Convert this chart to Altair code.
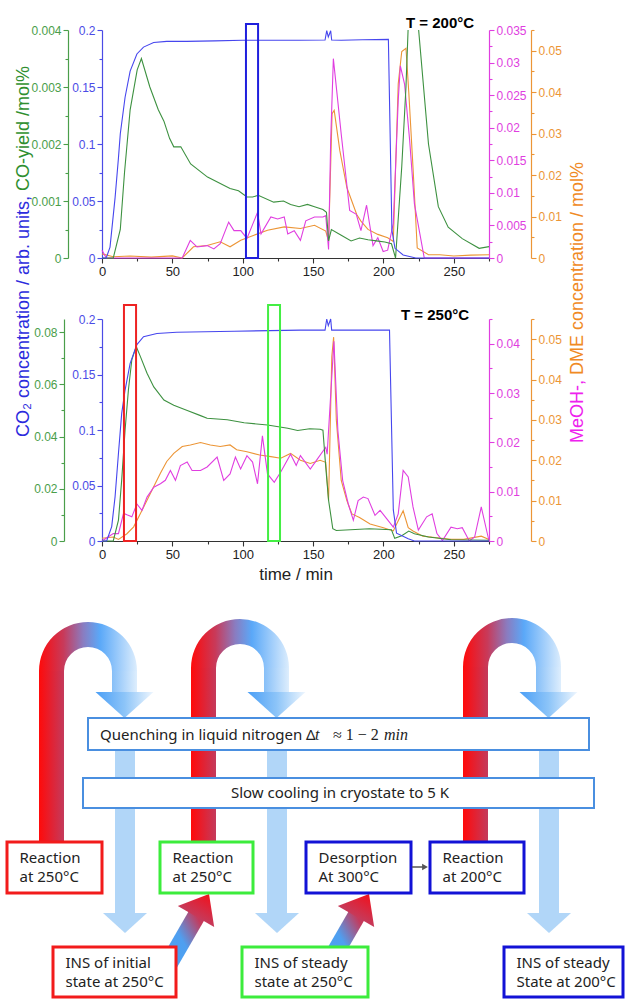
import math
import altair as alt
import pandas as pd

# ---------------- values: (time / min, value) ----------------
co2_200 = [(0, 0), (3, 0), (5.7, 0.0096), (9.3, 0.053), (11.7, 0.088), (13, 0.109), (16.4, 0.141),
           (20, 0.164), (24.8, 0.179), (29.5, 0.185), (36.7, 0.189), (46, 0.19), (60, 0.19), (80, 0.1905),
           (100, 0.191), (120, 0.191), (140, 0.191), (158.5, 0.1912), (159.7, 0.1994), (160.8, 0.194),
           (162.5, 0.1994), (163.2, 0.1912), (170, 0.191), (185, 0.1915), (203.5, 0.1918), (206, 0.0245),
           (208.2, 0.0085), (214, 0.0026), (223, 0), (275, 0)]
co_200 = [(0, 0), (8, 0), (10, 0.0002), (13, 0.0005), (16, 0.0015), (20, 0.0026), (25, 0.0033), (28, 0.0035),
          (34, 0.003), (40, 0.0026), (44, 0.0024), (48, 0.0021), (51, 0.00195), (56, 0.00195), (63, 0.00165),
          (75, 0.00142), (91, 0.00122), (97, 0.00118), (103, 0.00107), (107, 0.00107), (111, 0.0011),
          (122, 0.00098), (129, 0.001), (134, 0.00094), (140, 0.0009), (146, 0.00094), (151, 0.0009),
          (157, 0.00085), (159.5, 0.0008), (161, 0.0003), (163, 0.0005), (170, 0.0004), (177, 0.0003),
          (183, 0.00035), (189, 0.00032), (195, 0.0003), (201, 0.00028), (205.7, 0.00025), (208.6, 0),
          (213, 0.0016), (216, 0.003), (217.5, 0.004), (221, None), (225, 0.004), (232, 0.002),
          (239, 0.0009), (246, 0.00054), (256, 0.00034), (268, 0.00017), (275, 0.0002)]
meoh_200 = [(0, 0.0012), (3, 0), (57, 0), (62.7, 0.0027), (67.5, 0.0017), (74.7, 0.0019), (79.5, 0.0014),
            (84, 0.0022), (90, 0.0055), (93.8, 0.0042), (98.6, 0.0042), (103, 0.003), (110.5, 0.007),
            (113, 0.0037), (120, 0.0063), (124.8, 0.006), (129.5, 0.0063), (132, 0.0037), (136.6, 0.0042),
            (141, 0.0027), (144.8, 0.0057), (151, 0.0063), (157, 0.0063), (159, 0.0065), (161, 0.0013),
            (162.5, 0.018), (164.4, 0.0306), (170, 0.019), (176, 0.0073), (180.7, 0.0067), (184, 0.0042),
            (188, 0.0081), (192.6, 0.0019), (196, 0.0031), (199.8, 0.001), (203, 0.0012), (207, 0.0053),
            (210.5, 0.0242), (212, 0.0295), (215, 0.0267), (218.6, 0.0181), (222, 0.0083), (229, 0), (275, 0)]
dme_200 = [(0, 0.001), (8, 0.0003), (20, 0.0005), (35, 0.0002), (50, 0.0005), (57, 0), (65, 0.0027),
           (74.7, 0.003), (84, 0.0039), (91, 0.0027), (98.6, 0.0043), (108, 0.0055), (117.6, 0.0067),
           (129.5, 0.0075), (141, 0.0071), (151, 0.0079), (159, 0.0065), (161, 0.004), (163.5, 0.0348),
           (165, 0.0356), (169, 0.0259), (174, 0.017), (181, 0.0105), (184, 0.0089), (189, 0.0069),
           (196, 0.0057), (203, 0.0049), (207, 0.004), (210.5, 0.042), (213, 0.0498), (216, 0.0506),
           (218, 0.04), (221, 0.0218), (224, 0.0024), (232, 0.0008), (240, 0.0008), (250, 0.0005),
           (262, 0.0007), (275, 0.0008)]

co2_250 = [(0, 0), (3.3, 0), (6.9, 0.013), (9.3, 0.04), (11.7, 0.079), (14, 0.115), (16.4, 0.136),
           (20, 0.16), (24.8, 0.177), (29.5, 0.184), (39, 0.187), (53, 0.188), (94, 0.189), (141, 0.19),
           (158.5, 0.19), (159.7, 0.2), (160.8, 0.194), (162.5, 0.2), (163.2, 0.19), (175, 0.19),
           (190, 0.19), (204.3, 0.19), (207, 0.028), (209.3, 0.007), (217.6, 0.002), (222, 0), (275, 0)]
co_250 = [(0, 0), (8, 0), (11.7, 0.008), (14, 0.0234), (16.4, 0.0425), (18.8, 0.058), (21.2, 0.0694),
          (24.3, 0.0745), (27.3, 0.0706), (32, 0.0642), (36.8, 0.059), (44, 0.054), (51, 0.052),
          (60.6, 0.05), (70, 0.048), (74.7, 0.047), (89, 0.0464), (101, 0.0453), (117.6, 0.0444),
          (132, 0.0432), (139, 0.0423), (147.6, 0.043), (155, 0.0428), (157, 0.0424), (159, 0.0283),
          (161, 0.0156), (164, 0.0047), (166.5, 0.004), (190, 0.0047), (205.7, 0.0043), (208, 0.001),
          (213, 0.002), (218, 0.0038), (222, 0.0028), (232, 0.0015), (248, 0.0005), (275, 0.0003)]
meoh_250 = [(0, 0), (8, 0.0015), (11.7, 0.0015), (15.3, 0.0056), (17.7, 0.0053), (21.2, 0.0049),
            (24.8, 0.0075), (28.4, 0.0062), (32, 0.0089), (36.8, 0.0109), (41.5, 0.0116), (45, 0.0123),
            (48.6, 0.0143), (52.2, 0.0123), (55.7, 0.0153), (60.5, 0.016), (64, 0.0143), (70, 0.0143),
            (74.7, 0.015), (81.8, 0.017), (86.5, 0.0123), (91, 0.0136), (94.8, 0.017), (98.5, 0.0146),
            (103, 0.0173), (107, 0.016), (110.5, 0.0116), (114, 0.0213), (117.6, 0.0136), (122.4, 0.0119),
            (127, 0.014), (134, 0.0176), (138, 0.0153), (141, 0.0173), (148, 0.0146), (153, 0.0166),
            (159, 0.019), (160, 0.0176), (162.8, 0.031), (164.8, 0.0405), (167.6, 0.0224), (171, 0.0123),
            (175, 0.0075), (178.6, 0.0042), (182, 0.0082), (185.7, 0.0089), (189, 0.0086), (194, 0.0052),
            (197.6, 0.0062), (202.4, 0.0045), (207, 0.0028), (210.5, 0.0055), (214, 0.0143), (217.6, 0.013),
            (221, 0.0069), (224.8, 0.0022), (230.7, 0.0049), (234.6, 0.0055), (238, 0.0015), (241.9, 0.0001),
            (248, 0.0028), (252.5, 0.0025), (256, 0.0027), (261, 0), (264.8, 0.0008), (269.5, 0.0069),
            (275, 0)]
dme_250 = [(0, 0.0007), (8, 0.001), (11.7, 0.0004), (17.7, 0.0018), (22.5, 0.0035), (27.3, 0.0068),
           (32, 0.0101), (36.8, 0.0135), (41.5, 0.0168), (46, 0.0197), (51, 0.0217), (57, 0.0234),
           (62.8, 0.0238), (70, 0.0244), (77, 0.0238), (84, 0.0234), (91, 0.0238), (95.7, 0.0226),
           (103, 0.0221), (112, 0.0213), (120, 0.0209), (127, 0.0205), (134, 0.0217), (141, 0.02),
           (148, 0.0192), (155, 0.02), (159, 0.0195), (161, 0.01), (163.3, 0.0457), (164.6, 0.0505),
           (166.5, 0.03), (170, 0.015), (174, 0.01), (177.6, 0.0067), (183, 0.0058), (190.5, 0.0042),
           (200, 0.0033), (207, 0.0025), (210.5, 0.005), (214, 0.0075), (217.6, 0.0033), (221, 0.0025),
           (228, 0.0012), (238, 0.0008), (248, 0.0004), (257, 0.0004), (269.5, 0.0012), (275, 0.0004)]

# INS sampling windows (time range, min)
windows_200 = [(102.3, 110.9)]
windows_250 = [(15.6, 24.2), (118.0, 126.5)]

# tick labels
x_ticks = [0, 50, 100, 150, 200, 250]
x_minor = [25, 75, 125, 175, 225, 275]
co2_ticks = [0, 0.05, 0.1, 0.15, 0.2]
co2_minor = [0.025, 0.075, 0.125, 0.175]
co_ticks_200 = [0, 0.001, 0.002, 0.003, 0.004]
co_minor_200 = [0.0005, 0.0015, 0.0025, 0.0035]
meoh_ticks_200 = [0, 0.005, 0.01, 0.015, 0.02, 0.025, 0.03, 0.035]
meoh_minor_200 = [0.0025, 0.0075, 0.0125, 0.0175, 0.0225, 0.0275, 0.0325]
dme_ticks = [0, 0.01, 0.02, 0.03, 0.04, 0.05]
dme_minor = [0.005, 0.015, 0.025, 0.035, 0.045, 0.055]
co_ticks_250 = [0, 0.02, 0.04, 0.06, 0.08]
co_minor_250 = [0.01, 0.03, 0.05, 0.07]
meoh_ticks_250 = [0, 0.01, 0.02, 0.03, 0.04]
meoh_minor_250 = [0.005, 0.015, 0.025, 0.035, 0.045]

# ---------------- diagram content ----------------
loop_cx = [88, 240, 512]
loop_cy = [671, 668, 667]
box_x1 = [7, 160, 306, 430, 53, 242, 504]
box_x2 = [102, 253, 411, 524, 176, 368, 623]
box_y1 = [842, 842, 842, 842, 947, 947, 947]
box_y2 = [893, 893, 893, 893, 997, 997, 997]
box_col = ['#f21b1b', '#3cec3c', '#1212d6', '#1212d6', '#f21b1b', '#3cec3c', '#1212d6']
box_line1 = ['Reaction', 'Reaction', 'Desorption', 'Reaction', 'INS of initial', 'INS of steady', 'INS of steady']
box_line2 = ['at 250°C', 'at 250°C', 'At 300°C', 'at 200°C', 'state at 250°C', 'state at 250°C', 'State at 200°C']
diag_tail = [(168, 965), (328, 965)]
diag_tip = [(209, 894), (369, 894)]
band_x1 = [88, 83]
band_x2 = [589, 594]
band_y1 = [718, 778]
band_y2 = [750, 808]

# ---------------- styling ----------------
C_BLUE, C_BLUE_AX = '#4646ee', '#4b4be6'
C_GREEN, C_GREEN_AX = '#3d9140', '#4a9e4a'
C_MAG, C_ORANGE = '#e03ee0', '#ec9536'
FONT = 'Liberation Sans'
DFONT = 'Noto Sans'
W, H = 625, 999


def XS():
    return alt.Scale(domain=[0, 275], range=[102, 489], nice=False, zero=False)


def YS(top, y0, y1):
    return alt.Scale(domain=[0, top], range=[y0, y1], nice=False, zero=False)


def SX():
    return alt.Scale(domain=[0, W], range=[0, W], nice=False, zero=False)


def SY():
    return alt.Scale(domain=[0, H], range=[0, H], nice=False, zero=False)


def yaxis(vals, color, orient, offset, minor=False):
    common = dict(values=vals, orient=orient, offset=offset, grid=False, title=None,
                  domainColor=color, tickColor=color, domainWidth=1.2, tickWidth=1.1)
    if minor:
        return alt.Axis(labels=False, domain=False, tickSize=3, **common)
    return alt.Axis(format='~g', labelColor=color, labelFont=FONT, labelFontSize=12, labelPadding=2,
                    tickSize=5, labelFlush=False, labelOverlap=False, **common)


def xaxis(vals, offset, minor=False, title=None):
    common = dict(values=vals, orient='bottom', offset=offset, grid=False,
                  domainColor='#333333', tickColor='#333333', domainWidth=1.2, tickWidth=1.1)
    if minor:
        return alt.Axis(labels=False, domain=False, tickSize=3, title=None, **common)
    kw = dict(format='d', labelColor='#222222', labelFont=FONT, labelFontSize=13, labelPadding=2,
              tickSize=5, labelFlush=False, labelOverlap=False, **common)
    if title:
        return alt.Axis(title=title, titleFont=FONT, titleFontSize=17, titleFontWeight='normal',
                        titleColor='#222222', titlePadding=5, **kw)
    return alt.Axis(title=None, **kw)


def line(pairs, color, yscale, yax=None, xax=None):
    d = pd.DataFrame(pairs, columns=['t', 'v'])
    return alt.Chart(d).mark_line(color=color, strokeWidth=1.1).encode(
        x=alt.X('t:Q', scale=XS(), axis=xax),
        y=alt.Y('v:Q', scale=yscale, axis=yax))


def ghost(yscale, yax=None, xax=None):
    d = pd.DataFrame({'t': [0], 'v': [0]})
    return alt.Chart(d).mark_point(opacity=0).encode(
        x=alt.X('t:Q', scale=XS(), axis=xax),
        y=alt.Y('v:Q', scale=yscale, axis=yax))


def windows(wins, top, color, yscale):
    d = pd.DataFrame({'t1': [w[0] for w in wins], 't2': [w[1] for w in wins],
                      'b': [0] * len(wins), 'h': [top] * len(wins)})
    return alt.Chart(d).mark_rect(fill='transparent', stroke=color, strokeWidth=2).encode(
        x=alt.X('t1:Q', scale=XS(), axis=None), x2='t2:Q',
        y=alt.Y('b:Q', scale=yscale, axis=None), y2='h:Q')


def drect(x1, x2, y1, y2, extra=None, **mk):
    d = pd.DataFrame({'x1': x1, 'x2': x2, 'y1': y1, 'y2': y2})
    enc = dict(x=alt.X('x1:Q', scale=SX(), axis=None), x2='x2:Q',
               y=alt.Y('y1:Q', scale=SY(), axis=None), y2='y2:Q')
    if extra is not None:
        d['c'] = extra
        enc['stroke'] = alt.Stroke('c:N', scale=None)
    return alt.Chart(d).mark_rect(**mk).encode(**enc)


def dtext(xs, ys, texts, **mk):
    d = pd.DataFrame({'x': xs, 'y': ys, 'text': texts})
    return alt.Chart(d).mark_text(**mk).encode(
        x=alt.X('x:Q', scale=SX(), axis=None), y=alt.Y('y:Q', scale=SY(), axis=None), text='text:N')


def dpoint(xs, ys, **mk):
    d = pd.DataFrame({'x': xs, 'y': ys})
    return alt.Chart(d).mark_point(**mk).encode(
        x=alt.X('x:Q', scale=SX(), axis=None), y=alt.Y('y:Q', scale=SY(), axis=None))


def grad(stops, x1=0, y1=0, x2=1, y2=0):
    return alt.Gradient(gradient='linear', x1=x1, y1=y1, x2=x2, y2=y2,
                        stops=[alt.GradientStop(offset=o, color=c) for o, c in stops])


layers = []

# ---------------- diagram ----------------
R_OUT, R_IN = 49, 24
red_grad = grad([(0, '#ff0a0a'), (1, '#c43a5c')])
layers.append(drect([c - R_OUT for c in loop_cx], [c - R_IN for c in loop_cx], loop_cy, [842] * 3,
                    fill=red_grad))
layers.append(drect([c + R_IN for c in loop_cx], [c + R_OUT for c in loop_cx], loop_cy, [693] * 3,
                    fill=grad([(0, '#86bff8'), (1, '#deeefd')])))
arc_d = pd.DataFrame({'x': loop_cx, 'y': loop_cy})
layers.append(alt.Chart(arc_d).mark_arc(
    theta=4.712389, theta2=7.853982, radius=R_OUT, radius2=R_IN,
    fill=grad([(0, '#ff0a0a'), (0.25, '#c83a5a'), (0.45, '#8a7cc0'), (0.62, '#5aa8f8'), (1, '#dcedfd')])
).encode(x=alt.X('x:Q', scale=SX(), axis=None), y=alt.Y('y:Q', scale=SY(), axis=None)))
# upper arrowheads
layers.append(dpoint([c + 36.5 for c in loop_cx], [705] * 3, shape='M-1,-0.45L1,-0.45L0,0.45Z',
                     size=3364, filled=True, opacity=1, strokeWidth=0,
                     fill=grad([(0, '#4b9ff6'), (0.5, '#8cc4f8'), (1, '#eef6fe')])))
# lower light bars and arrowheads
layers.append(drect([c + 27 for c in loop_cx], [c + 47 for c in loop_cx], [718] * 3, [914] * 3,
                    fill='#b1d6f8'))
layers.append(dpoint([c + 37 for c in loop_cx], [923] * 3, shape='M-1,-0.45L1,-0.45L0,0.45Z',
                     size=1936, filled=True, opacity=1, strokeWidth=0, fill='#b1d6f8'))
# diagonal arrows
shaft_rows, head_x, head_y, head_a = [], [], [], []
for i, ((tx, ty), (px, py)) in enumerate(zip(diag_tail, diag_tip)):
    dx, dy = px - tx, py - ty
    L = math.hypot(dx, dy)
    ux, uy = dx / L, dy / L
    shaft_rows += [(i, tx, ty), (i, px - 25 * ux, py - 25 * uy)]
    head_x.append(px - 13 * ux)
    head_y.append(py - 13 * uy)
    head_a.append(math.degrees(math.atan2(dx, -dy)))
shaft_d = pd.DataFrame(shaft_rows, columns=['id', 'x', 'y'])
layers.append(alt.Chart(shaft_d).mark_line(
    strokeWidth=18, strokeCap='butt',
    stroke=grad([(0, '#4aa2f4'), (0.5, '#4f9ff0'), (1, '#c43a5c')], x1=0, y1=1, x2=1, y2=0)
).encode(x=alt.X('x:Q', scale=SX(), axis=None), y=alt.Y('y:Q', scale=SY(), axis=None), detail='id:N'))
for hx, hy, ha in zip(head_x, head_y, head_a):
    layers.append(dpoint([hx], [hy], shape='M-1,0.62L1,0.62L0,-0.62Z', size=1764, filled=True,
                         opacity=1, strokeWidth=0, angle=round(ha, 2),
                         fill=grad([(0, '#c63a5a'), (1, '#f2101c')], x1=0, y1=1, x2=0, y2=0)))
# process bands
layers.append(drect(band_x1, band_x2, band_y1, band_y2, fill='white', stroke='#4a8fe0', strokeWidth=2))
layers.append(dtext([100], [735], ['Quenching in liquid nitrogen Δ'], font=DFONT, fontSize=15,
                    align='left', baseline='middle', color='#222222'))
layers.append(dtext([315], [735], ['t'], font='Liberation Serif', fontSize=16, fontStyle='italic',
                    align='left', baseline='middle', color='#222222'))
layers.append(dtext([333], [735], ['≈ 1 − 2'], font='Liberation Serif', fontSize=16,
                    align='left', baseline='middle', color='#222222'))
layers.append(dtext([384], [735], ['min'], font='Liberation Serif', fontSize=16, fontStyle='italic',
                    align='left', baseline='middle', color='#222222'))
layers.append(dtext([340], [793], ['Slow cooling in cryostate to 5 K'], font=DFONT, fontSize=15,
                    align='center', baseline='middle', color='#222222'))
# state boxes
layers.append(drect(box_x1, box_x2, box_y1, box_y2, extra=box_col, fill='white', strokeWidth=3))
layers.append(dtext([x + 12.5 for x in box_x1], [y + 15.5 for y in box_y1], box_line1, font=DFONT,
                    fontSize=15, align='left', baseline='middle', color='#222222'))
layers.append(dtext([x + 12.5 for x in box_x1], [y + 35 for y in box_y1], box_line2, font=DFONT,
                    fontSize=15, align='left', baseline='middle', color='#222222'))
# small arrow desorption -> reaction
ga = pd.DataFrame({'x1': [412], 'x2': [424], 'y': [867]})
layers.append(alt.Chart(ga).mark_rule(color='#555555', strokeWidth=1.5).encode(
    x=alt.X('x1:Q', scale=SX(), axis=None), x2='x2:Q', y=alt.Y('y:Q', scale=SY(), axis=None)))
layers.append(dpoint([425], [867], shape='triangle-right', size=45, filled=True, opacity=1,
                     color='#555555'))

# ---------------- panels ----------------
def panel(y0, y1, co2, co, meoh, dme, co_top, co_t, co_m, meoh_top, meoh_t, meoh_m, wins, wcol, wtop,
          co_off, title=None):
    s_co2 = YS(0.2, y0, y1)
    s_co = YS(co_top, y0, y1)
    s_meoh = YS(meoh_top, y0, y1)
    s_dme = YS(0.055, y0, y1)
    xoff = y0 - H
    out = [
        ghost(s_co2, yaxis(co2_minor, C_BLUE_AX, 'left', -102, True), xaxis(x_minor, xoff, True)),
        ghost(s_co, yaxis(co_m, C_GREEN_AX, 'left', co_off, True)),
        ghost(s_meoh, yaxis(meoh_m, C_MAG, 'right', -136, True)),
        ghost(s_dme, yaxis(dme_minor, C_ORANGE, 'right', -94, True)),
        line(dme, C_ORANGE, s_dme, yaxis(dme_ticks, C_ORANGE, 'right', -94)),
        line(meoh, C_MAG, s_meoh, yaxis(meoh_t, C_MAG, 'right', -136)),
        line(co, C_GREEN, s_co, yaxis(co_t, C_GREEN_AX, 'left', co_off)),
        line(co2, C_BLUE, s_co2, yaxis(co2_ticks, C_BLUE_AX, 'left', -102),
             xaxis(x_ticks, xoff, title=title)),
    ]
    for w, c in zip(wins, wcol):
        out.append(windows([w], wtop, c, YS(0.2, y0, y1)))
    return out


layers += panel(258, 30, co2_200, co_200, meoh_200, dme_200, 0.004, co_ticks_200, co_minor_200,
                0.035, meoh_ticks_200, meoh_minor_200, windows_200, ['#1f1fdd'], 0.2053, -68)
layers += panel(541, 319, co2_250, co_250, meoh_250, dme_250, 0.085, co_ticks_250, co_minor_250,
                0.045, meoh_ticks_250, meoh_minor_250, windows_250, ['#ee2222', '#44ee44'], 0.2126,
                -64, title='time / min')

# panel labels
layers.append(dtext([440, 435], [23, 315], ['T = 200°C', 'T = 250°C'], font=FONT, fontSize=15,
                    fontWeight='bold', align='center', baseline='middle', color='black'))
# axis titles (multi-coloured, rotated)
layers.append(dtext([24], [437], ['CO₂ concentration / arb. units,'], font=FONT, fontSize=18,
                    angle=270, align='left', baseline='middle', color='#2b2bdd'))
layers.append(dtext([24], [191], ['CO-yield /mol%'], font=FONT, fontSize=18,
                    angle=270, align='left', baseline='middle', color='#2f8f2f'))
layers.append(dtext([578], [443], ['MeOH-,'], font=FONT, fontSize=18,
                    angle=270, align='left', baseline='middle', color='#ee22ee'))
layers.append(dtext([578], [375], ['DME concentration / mol%'], font=FONT, fontSize=18,
                    angle=270, align='left', baseline='middle', color='#f08a24'))

chart = alt.layer(*layers).resolve_scale(x='independent', y='independent').properties(
    width=W, height=H, autosize=alt.AutoSizeParams(type='none'), padding=0, background='white'
).configure_view(stroke=None)

chart.save('out.html', embed_options={'renderer': 'svg', 'actions': False})
